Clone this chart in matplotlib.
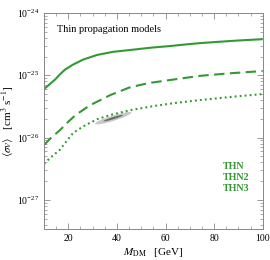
import numpy as np
import matplotlib
matplotlib.use("Agg")
import matplotlib.pyplot as plt
from matplotlib.ticker import LogLocator, MultipleLocator, NullFormatter

plt.rcParams['font.family'] = ['Liberation Serif', 'DejaVu Serif']
plt.rcParams['mathtext.fontset'] = 'stix'

GREEN = '#339933'

# dark matter mass (GeV) and <sigma v> (cm^3 s^-1)
mass_thn = [10, 12, 14.5, 16.5, 18.6, 21.9, 26, 31.8, 38.4, 47.5, 55, 62, 68, 74, 82, 90, 100]
sv_thn = [6.0e-26, 7.0e-26, 8.5e-26, 1.03e-25, 1.23e-25, 1.48e-25, 1.78e-25, 2.12e-25, 2.38e-25,
          2.6e-25, 2.8e-25, 2.95e-25, 3.12e-25, 3.28e-25, 3.45e-25, 3.62e-25, 3.8e-25]

mass_thn2 = [10, 13, 16.6, 20, 23, 28.9, 37.2, 45.3, 53, 61.9, 74.2, 87, 100]
sv_thn2 = [7.6e-27, 1.0e-26, 1.32e-26, 1.8e-26, 2.3e-26, 3.3e-26, 4.8e-26, 6.4e-26, 7.5e-26,
           8.4e-26, 9.8e-26, 1.08e-25, 1.17e-25]

mass_thn3 = [10, 13, 16.6, 18.8, 22.1, 27, 32, 37.2, 45.3, 55, 64, 74.2, 87, 100]
sv_thn3 = [3.8e-27, 4.9e-27, 6.4e-27, 8.3e-27, 1.2e-26, 1.58e-26, 1.98e-26, 2.3e-26, 2.75e-26,
           3.2e-26, 3.6e-26, 4.0e-26, 4.5e-26, 5.0e-26]

labels = ['THN', 'THN2', 'THN3']

# best-fit region: centre (GeV, cm^3 s^-1), half widths (GeV, decades), tilt
ell_center = (38.5, 2.05e-26)
ell_outer = (7.5, 0.045)
ell_inner = (4.0, 0.018)
ell_slope = 0.012  # decades per GeV


def region(half_x, half_dec):
    t = np.linspace(0, 2 * np.pi, 200)
    dx = half_x * np.cos(t)
    dl = half_dec * np.sin(t) + ell_slope * dx
    return ell_center[0] + dx, ell_center[1] * 10 ** dl


fig = plt.figure(figsize=(2.7, 2.6), dpi=100)
ax = fig.add_axes([0.163, 0.119, 0.81, 0.831])

ex, ey = region(*ell_outer)
ax.fill(ex, ey, color='#c8c8c8', lw=0)
ex, ey = region(*ell_inner)
ax.fill(ex, ey, color='#6a6a6a', lw=0)

ax.plot(mass_thn, sv_thn, color=GREEN, lw=1.5, solid_capstyle='butt')
ax.plot(mass_thn2, sv_thn2, color=GREEN, lw=1.5, dashes=(5, 2.6))
ax.plot(mass_thn3, sv_thn3, color=GREEN, lw=1.5, dashes=(0.9, 1.5))

ax.set_yscale('log')
ax.set_xlim(10, 100)
ax.set_ylim(3.4e-28, 1e-24)

ax.xaxis.set_major_locator(MultipleLocator(20))
ax.xaxis.set_minor_locator(MultipleLocator(5))
ax.yaxis.set_major_locator(LogLocator(base=10, numticks=10))
ax.yaxis.set_minor_locator(LogLocator(base=10, subs=np.arange(2, 10), numticks=20))
ax.yaxis.set_minor_formatter(NullFormatter())

ax.tick_params(which='both', direction='in', top=True, right=True, labelsize=7, color='#888888')
ax.tick_params(which='major', length=4, width=0.6)
ax.tick_params(which='minor', length=2.2, width=0.5)
for s in ax.spines.values():
    s.set_color('#888888')
    s.set_linewidth(0.7)

ax.set_xlabel(r'$M_{\rm DM}$   [GeV]', fontsize=8, labelpad=2)
ax.set_ylabel(r'$\langle\sigma v\rangle$   [cm$^3$ s$^{-1}$]', fontsize=8, labelpad=1)

ax.text(0.06, 0.925, 'Thin propagation models', transform=ax.transAxes,
        fontsize=7.5, va='center', ha='left')
for i, lab in enumerate(labels):
    ax.text(0.82, 0.29 - i * 0.052, lab, transform=ax.transAxes, color=GREEN,
            fontsize=7.2, fontweight='bold', va='center', ha='left')

fig.savefig('out.png', dpi=100)
